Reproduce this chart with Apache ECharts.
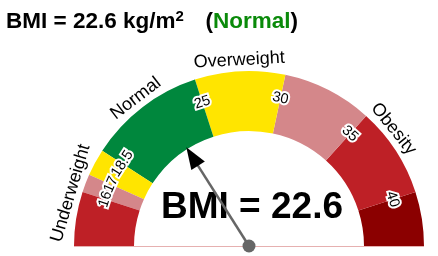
<!DOCTYPE html>
<html><head><meta charset="utf-8">
<script src="https://cdn.jsdelivr.net/npm/echarts@6/dist/echarts.min.js"></script>
<style>html,body{margin:0;padding:0;background:#fff}#c{width:438px;height:256px}</style>
</head><body><div id="c"></div>
<script>
// ---- data ----
const bandEdges = [13, 16, 17, 18.5, 25, 30, 35, 40, 43];
const bandColors = ['#be2026', '#d4878a', '#ffe500', '#00873d', '#ffe500', '#d4878a', '#be2026', '#8b0000'];
const tickValues = [16, 17, 18.5, 25, 30, 35, 40];
const categoryNames = ['Underweight', 'Normal', 'Overweight', 'Obesity'];
const categoryFrom = [13, 18.5, 25, 30];
const categoryTo = [18.5, 25, 30, 43];
const bmiValue = 22.6;
const bmiClass = 'Normal';

// ---- layout ----
const CX = 249, CY = 246, R = 175, BAND = 60;
const FONT = 'Liberation Sans, Arial, sans-serif';
const MIN = bandEdges[0], MAX = bandEdges[bandEdges.length - 1], SPAN = MAX - MIN;

const axisColors = bandColors.map((c, i) => [(bandEdges[i + 1] - MIN) / SPAN, c]);
const tickData = tickValues.map(v => [151, v]);
const catData = categoryNames.map((n, i) => [186, (categoryFrom[i] + categoryTo[i]) / 2]);

function textRenderer(labels, extraStyle) {
  return function (params, api) {
    const p = api.coord([api.value(0), api.value(1)]);
    const cs = params.coordSys;
    const a = Math.atan2(cs.cy - p[1], p[0] - cs.cx);
    return {
      type: 'text', x: p[0], y: p[1], rotation: a - Math.PI / 2,
      style: Object.assign({
        text: labels[params.dataIndex], align: 'center', verticalAlign: 'middle',
        fontFamily: FONT, fill: '#000'
      }, extraStyle)
    };
  };
}

const chart = echarts.init(document.getElementById('c'), null, {renderer: 'canvas'});
chart.setOption({
  animation: false,
  title: {
    left: 1, top: 4,
    text: `{b|BMI = ${bmiValue} kg/m}{s|2}{sp|   }{b|(}{g|${bmiClass}}{b|)}`,
    textStyle: {
      rich: {
        b: {fontSize: 22.5, fontWeight: 'bold', color: '#000', fontFamily: FONT, lineHeight: 26},
        s: {fontSize: 15, fontWeight: 'bold', color: '#000', fontFamily: FONT, verticalAlign: 'top', lineHeight: 15},
        sp: {fontSize: 26, fontWeight: 'bold', fontFamily: FONT, lineHeight: 26},
        g: {fontSize: 22.5, fontWeight: 'bold', color: '#0a8a0a', fontFamily: FONT, lineHeight: 26}
      }
    }
  },
  polar: {center: [CX, CY], radius: [0, 200]},
  angleAxis: {type: 'value', min: MIN, max: MIN + 2 * SPAN, startAngle: 180, clockwise: true, show: false},
  radiusAxis: {type: 'value', min: 0, max: 200, show: false},
  graphic: [{
    type: 'line', z: -1,
    shape: {x1: CX - R, y1: CY + 0.5, x2: CX + R, y2: CY + 0.5},
    style: {stroke: '#e6b0b0', lineWidth: 1}
  }],
  series: [
    {
      type: 'gauge', center: [CX, CY], radius: R, startAngle: 180, endAngle: 0,
      min: MIN, max: MAX,
      axisLine: {lineStyle: {width: BAND, color: axisColors}},
      axisTick: {show: false}, splitLine: {show: false}, axisLabel: {show: false},
      pointer: {icon: 'rect', length: 108, width: 2.5, itemStyle: {color: '#666'}},
      anchor: {show: true, size: 13, showAbove: true, itemStyle: {color: '#666'}},
      title: {show: false},
      detail: {
        offsetCenter: [3, -38], formatter: v => 'BMI = ' + v,
        fontSize: 37, fontWeight: 'bold', color: '#000', fontFamily: FONT
      },
      data: [{value: bmiValue}]
    },
    {
      type: 'gauge', center: [CX, CY], radius: R, startAngle: 180, endAngle: 0,
      min: MIN, max: MAX,
      axisLine: {show: false}, axisTick: {show: false}, splitLine: {show: false}, axisLabel: {show: false},
      pointer: {icon: 'triangle', length: 22, width: 16, offsetCenter: [0, -95], itemStyle: {color: '#000'}},
      anchor: {show: false}, title: {show: false}, detail: {show: false},
      data: [{value: bmiValue}]
    },
    {
      type: 'custom', coordinateSystem: 'polar', encode: {radius: 0, angle: 1},
      renderItem: textRenderer(tickValues.map(String), {fontSize: 14.5, stroke: '#fff', lineWidth: 4}),
      data: tickData, z: 5
    },
    {
      type: 'custom', coordinateSystem: 'polar', encode: {radius: 0, angle: 1},
      renderItem: textRenderer(categoryNames, {fontSize: 18}),
      data: catData, z: 5
    }
  ]
});
</script></body></html>
